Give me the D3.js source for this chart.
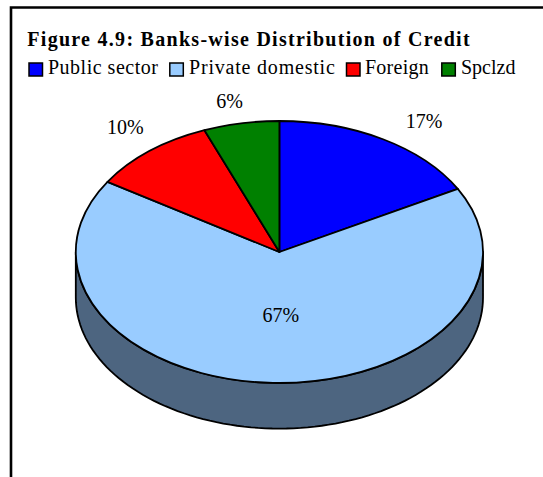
<!DOCTYPE html>
<html>
<head>
<meta charset="utf-8">
<script src="https://cdn.jsdelivr.net/npm/d3@7/dist/d3.min.js"></script>
<style>
html,body{margin:0;padding:0;background:#fff;}
svg{display:block;font-family:"Liberation Serif",serif;fill:#000;}
</style>
</head>
<body>
<svg id="chart" width="543" height="477"></svg>
<script>
const titleText = "Figure 4.9: Banks-wise Distribution of Credit";
const categories = ["Public sector", "Private domestic", "Foreign", "Spclzd"];
const shares = [17, 67, 10, 6];
const sliceColors = ["#0000ff", "#99ccff", "#ff0000", "#008000"];
const rimColor = "#4d6580";

const svg = d3.select("#chart");

// Frame: only the top and left edges fall inside the page
svg.append("path")
  .attr("d", "M11,477V7.5H543")
  .attr("fill", "none").attr("stroke", "#000").attr("stroke-width", 2.6);

svg.append("text").text(titleText)
  .attr("x", 27.3).attr("y", 45.5)
  .attr("font-size", 20).attr("font-weight", "bold")
  .attr("letter-spacing", 1.28);

// Legend
const swatchX = [29, 169.8, 346.5, 441.8];
const labelX = [48, 189, 365, 461];
const labelTracking = [0.5, 0.8, 0.25, 0];
const legend = svg.append("g").selectAll("g").data(categories).join("g");
legend.append("rect")
  .attr("x", (d, i) => swatchX[i]).attr("y", 63).attr("width", 13.5).attr("height", 13)
  .attr("fill", (d, i) => sliceColors[i]).attr("stroke", "#000").attr("stroke-width", 1.5);
legend.append("text").text(d => d)
  .attr("x", (d, i) => labelX[i]).attr("y", 74.3)
  .attr("font-size", 20).attr("letter-spacing", (d, i) => labelTracking[i]);

// Tilted pie: the arcs are drawn round and squashed vertically
const cx = 279.4, cy = 252, rx = 203.6, ry = 131, depth = 45.6;
const pie = d3.pie().sort(null).value(d => d);
const arcs = pie(shares);
const arc = d3.arc().innerRadius(0).outerRadius(rx);
const tilt = ry / rx;

// Rim below the top face
const lowerHalf = d3.range(90, 270.5, 2).map(a => a * Math.PI / 180);
const edge = d3.line().x(a => cx + rx * Math.sin(a)).y(a => cy - ry * Math.cos(a));
const rimTop = edge(lowerHalf);
const rimBottom = d3.line()
  .x(a => cx + rx * Math.sin(a))
  .y(a => cy + depth - ry * Math.cos(a))(lowerHalf.slice().reverse());
svg.append("path")
  .attr("d", rimTop + "L" + rimBottom.slice(1) + "Z")
  .attr("fill", rimColor).attr("stroke", "#000")
  .attr("stroke-width", 1.8).attr("stroke-linejoin", "round");

svg.append("g")
  .attr("transform", `translate(${cx},${cy}) scale(1,${tilt})`)
  .selectAll("path").data(arcs).join("path")
  .attr("d", arc)
  .attr("fill", (d, i) => sliceColors[i])
  .attr("stroke", "#000").attr("stroke-width", 1.8)
  .attr("stroke-linejoin", "round")
  .attr("vector-effect", "non-scaling-stroke");

// Percentage labels
const labelPos = [[424, 128.3], [280.8, 321.5], [125.3, 134], [229.7, 108.3]];
svg.append("g").selectAll("text").data(shares).join("text")
  .text(d => d + "%")
  .attr("x", (d, i) => labelPos[i][0]).attr("y", (d, i) => labelPos[i][1])
  .attr("text-anchor", "middle")
  .attr("font-size", 20);
</script>
</body>
</html>
